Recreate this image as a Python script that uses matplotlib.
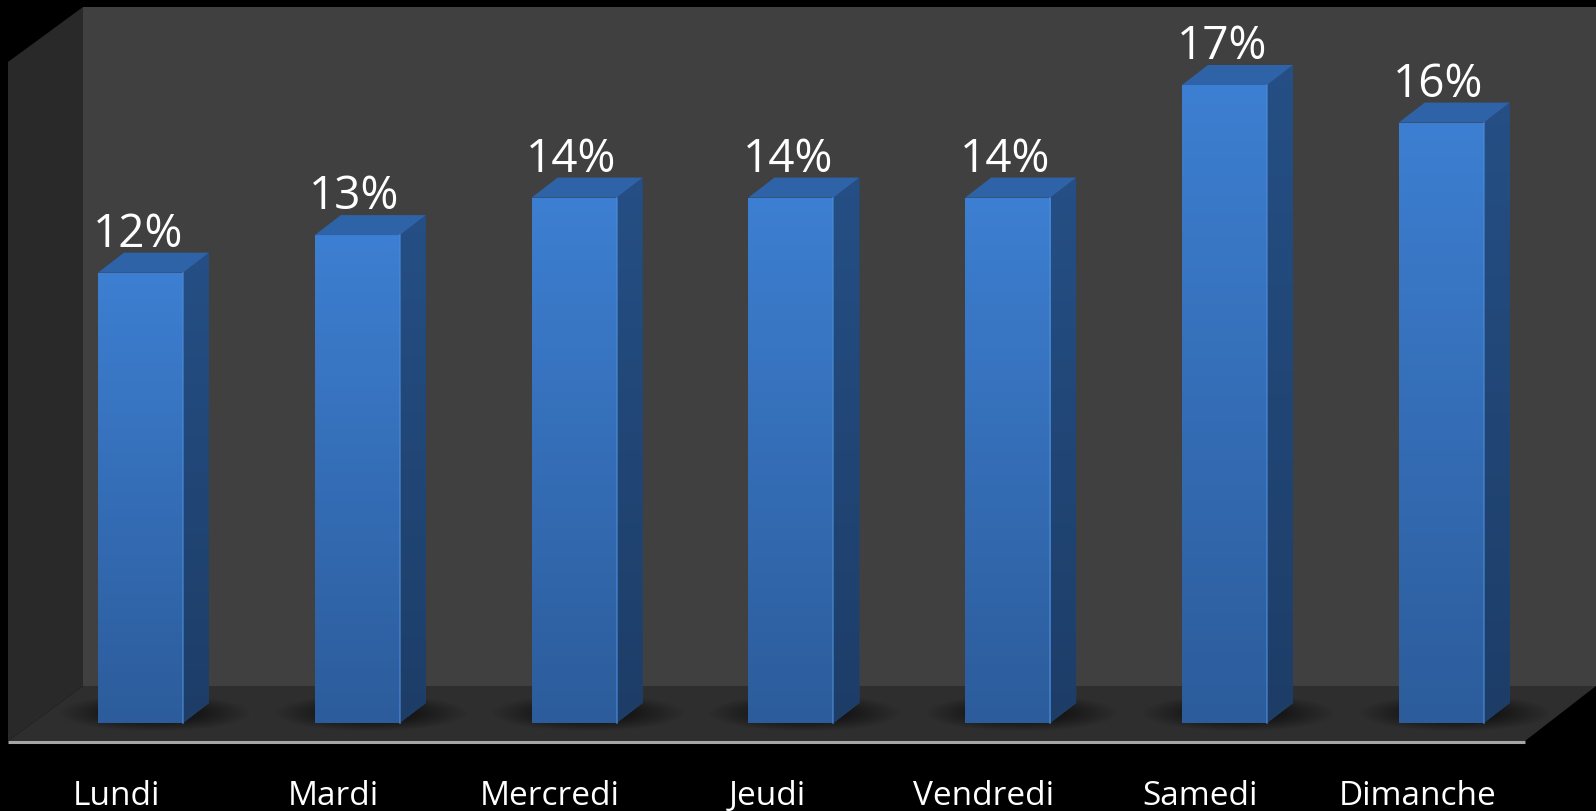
import matplotlib.pyplot as plt
import numpy as np
from matplotlib.patches import Polygon, Ellipse
from matplotlib.colors import LinearSegmentedColormap

days = ['Lundi', 'Mardi', 'Mercredi', 'Jeudi', 'Vendredi', 'Samedi', 'Dimanche']
values = [12, 13, 14, 14, 14, 17, 16]
value_labels = ['12%', '13%', '14%', '14%', '14%', '17%', '16%']

W, H = 1596, 811
fig = plt.figure(figsize=(W / 100, H / 100), dpi=100, facecolor='black')

# background "3d box" in pixel coordinates (top-down)
bg = fig.add_axes([0, 0, 1, 1])
bg.set_xlim(0, W)
bg.set_ylim(H, 0)
bg.axis('off')
bg.add_patch(Polygon([(83, 7), (W, 7), (W, 686), (83, 686)], closed=True,
                     facecolor='#404040', edgecolor='none'))
bg.add_patch(Polygon([(8, 62), (83, 7), (83, 686), (8, 741)], closed=True,
                     facecolor='#292929', edgecolor='none'))
bg.add_patch(Polygon([(8, 741), (83, 686), (W, 686), (1525, 741)], closed=True,
                     facecolor='#2e2e2e', edgecolor='none'))
bg.plot([8, 1525], [741.5, 741.5], color='#a6a6a6', lw=2.2, solid_capstyle='butt')

# data axes on top: x = category index, y = value
ax = fig.add_axes([0, 0, 1, 1], zorder=2)
ax.patch.set_alpha(0)
step_px, unit_px, x0_px, base_px = 216.8, 37.53, 140.5, H - 723
ax.set_xlim(-x0_px / step_px, (W - x0_px) / step_px)
ax.set_ylim(-base_px / unit_px, (H - base_px) / unit_px)
ax.axis('off')

x = np.arange(len(days))
bar_w = 85 / step_px
dx_px, dy_px = 26, 20

bars = ax.bar(x, values, width=bar_w, color='#3474c0', edgecolor='none', zorder=3)

grad = LinearSegmentedColormap.from_list('front', ['#2c5c9b', '#3d7fd2'])
side_c = LinearSegmentedColormap.from_list('side', ['#1d3d67', '#254f85'])
gimg = np.linspace(0, 1, 256).reshape(-1, 1)

for xi, v, rect in zip(x, values, bars):
    # soft floor shadow
    bl = ax.transData.transform((xi - bar_w / 2, 0))
    br = ax.transData.transform((xi + bar_w / 2, 0))
    cx = (bl[0] + br[0]) / 2 + 14
    for k in range(12):
        ax.add_patch(Ellipse((cx, bl[1] + 10), 190 - k * 9, 36 - k * 1.6,
                             transform=None, facecolor='black', alpha=0.045,
                             edgecolor='none', zorder=2))
    # front face gradient
    im = ax.imshow(gimg, cmap=grad, origin='lower', aspect='auto',
                   extent=(xi - bar_w / 2, xi + bar_w / 2, 0, v), zorder=3.5)
    im.set_clip_path(rect)
    tl = ax.transData.transform((xi - bar_w / 2, v))
    tr = ax.transData.transform((xi + bar_w / 2, v))
    # side face
    side = Polygon([br, br + (dx_px, dy_px), tr + (dx_px, dy_px), tr],
                   closed=True, transform=None, facecolor='#224a7c',
                   edgecolor='none', zorder=3.2)
    ax.add_patch(side)
    sim = ax.imshow(gimg, cmap=side_c, origin='lower', aspect='auto',
                    extent=(xi + bar_w / 2, xi + bar_w / 2 + dx_px / step_px,
                            0, v + dy_px / unit_px), zorder=3.3)
    sim.set_clip_path(side)
    # top face
    ax.add_patch(Polygon([tl, tr, tr + (dx_px, dy_px), tl + (dx_px, dy_px)],
                         closed=True, transform=None, facecolor='#2e63a8',
                         edgecolor='none', zorder=3.6))
    ax.plot([tr[0], tr[0]], [br[1], tr[1]], transform=None, color='#4a8bd8',
            lw=1.2, alpha=0.7, zorder=3.7)

for xi, v, lab in zip(x, values, value_labels):
    ax.annotate(lab, (xi, v), xytext=(-2, (dy_px + 6) * 0.72), textcoords='offset points',
                ha='center', va='baseline', color='white', fontsize=33,
                family='Open Sans', zorder=5)

for xi, d in zip(x, days):
    ax.annotate(d, (xi, 0), xytext=(-24 * 0.72, -82 * 0.72), textcoords='offset points',
                ha='center', va='baseline', color='white', fontsize=24,
                family='Open Sans', zorder=5)

fig.savefig('out.png', dpi=100, facecolor='black')
